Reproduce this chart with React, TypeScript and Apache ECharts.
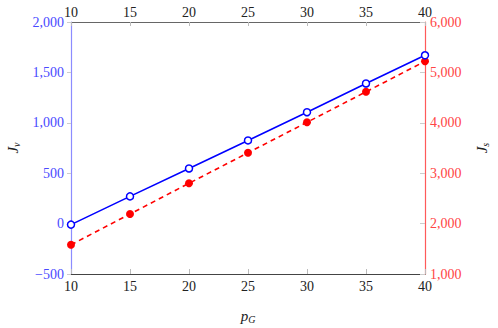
import React, { useEffect, useRef } from "react";
import * as echarts from "echarts";

const pG = [10, 15, 20, 25, 30, 35, 40];
const Jv = [-10, 270, 547, 825, 1105, 1390, 1670];
const Js = [1580, 2190, 2800, 3405, 4010, 4615, 5220];

const FONT = "serif";

function fmt(v: number): string {
  const a = Math.abs(v);
  const s = a.toString().replace(/\B(?=(\d{3})+(?!\d))/g, ",");
  return v < 0 ? "\u2212" + s : s;
}

const nameRich = (color: string) => ({
  i: { fontFamily: FONT, fontStyle: "italic" as const, fontSize: 15, color },
  s: { fontFamily: FONT, fontStyle: "italic" as const, fontSize: 10, color, padding: [7, 0, 0, 0] },
});

export default function App() {
  const ref = useRef<HTMLDivElement>(null);
  useEffect(() => {
    if (!ref.current) return;
    const chart = echarts.init(ref.current, undefined, { renderer: "svg" });
    chart.setOption({
      animation: false,
      textStyle: { fontFamily: FONT },
      grid: { left: 71, right: 73, top: 22, bottom: 54, containLabel: false, outerBoundsMode: "none" },
      xAxis: [
        {
          type: "value",
          min: 10,
          max: 40,
          interval: 5,
          position: "bottom",
          name: "{i|p}{s|G}",
          nameLocation: "middle",
          nameGap: 33,
          nameTextStyle: { rich: nameRich("#222") },
          axisLine: { onZero: false, lineStyle: { color: "#444", width: 1 } },
          axisTick: { inside: true, length: 5, lineStyle: { color: "#bbb" } },
          axisLabel: { fontFamily: FONT, fontSize: 14, color: "#222", margin: 5 },
          splitLine: { show: false },
        },
        {
          type: "value",
          min: 10,
          max: 40,
          interval: 5,
          position: "top",
          axisLine: { onZero: false, lineStyle: { color: "#666", width: 1 } },
          axisTick: { inside: true, length: 4, lineStyle: { color: "#bbb" } },
          axisLabel: { fontFamily: FONT, fontSize: 14, color: "#222", margin: 3 },
          splitLine: { show: false },
        },
      ],
      yAxis: [
        {
          type: "value",
          min: -500,
          max: 2000,
          interval: 500,
          position: "left",
          name: "{i|J}{s|v}",
          nameLocation: "middle",
          nameRotate: 90,
          nameGap: 48,
          nameTextStyle: { rich: nameRich("#222") },
          axisLine: { show: true, onZero: false, lineStyle: { color: "#8c8cff", width: 1.2 } },
          axisTick: { show: true, inside: false, length: 4, lineStyle: { color: "#ccc" } },
          axisLabel: { fontFamily: FONT, fontSize: 14, color: "#4a4aff", margin: 7, formatter: fmt },
          splitLine: { show: false },
        },
        {
          type: "value",
          min: 1000,
          max: 6000,
          interval: 1000,
          position: "right",
          name: "{i|J}{s|s}",
          nameLocation: "middle",
          nameRotate: 90,
          nameGap: 48,
          nameTextStyle: { rich: nameRich("#222") },
          axisLine: { show: true, onZero: false, lineStyle: { color: "#ff5a5a", width: 1.2 } },
          axisTick: { show: true, inside: true, length: 5, lineStyle: { color: "#ccc" } },
          axisLabel: { fontFamily: FONT, fontSize: 14, color: "#ff4545", margin: 5, formatter: fmt },
          splitLine: { show: false },
        },
      ],
      series: [
        {
          type: "line",
          xAxisIndex: 0,
          yAxisIndex: 0,
          data: pG.map((x, i) => [x, Jv[i]]),
          lineStyle: { color: "#0000ff", width: 1.6 },
          symbol: "circle",
          symbolSize: 7,
          itemStyle: { color: "#ffffff", borderColor: "#0000ff", borderWidth: 1.5 },
          z: 3,
        },
        {
          type: "line",
          xAxisIndex: 0,
          yAxisIndex: 1,
          data: pG.map((x, i) => [x, Js[i]]),
          lineStyle: { color: "#ff0000", width: 1.6, type: [5, 4] },
          symbol: "circle",
          symbolSize: 8,
          itemStyle: { color: "#ff0000", borderColor: "#ff0000", borderWidth: 0 },
          z: 2,
        },
      ],
    });
    return () => chart.dispose();
  }, []);
  return (
    <div
      ref={ref}
      style={{ position: "fixed", left: 0, top: 0, width: 498, height: 328, background: "#fff" }}
    />
  );
}
